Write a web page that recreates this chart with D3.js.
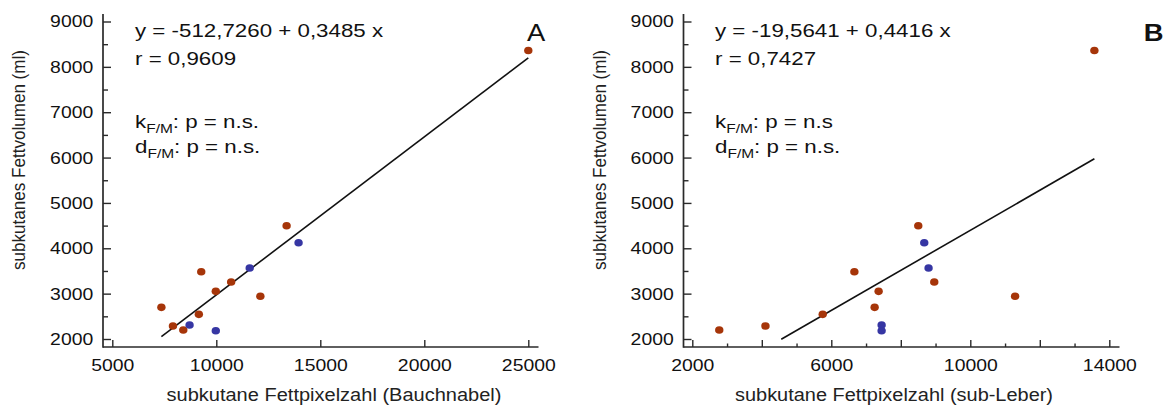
<!DOCTYPE html>
<html>
<head>
<meta charset="utf-8">
<script src="https://cdn.jsdelivr.net/npm/d3@7"></script>
<style>
  html, body { margin: 0; padding: 0; background: #fff; }
  svg { display: block; font-family: "Liberation Sans", Arial, sans-serif; }
</style>
</head>
<body>
<svg id="chart" width="1170" height="406"></svg>
<script>
// ---- data ----
const volume = [2698, 2286, 2198, 2544, 3482, 3051, 3256, 2941, 4496, 8360, 2308, 2183, 3564, 4121];
const pixBauchnabel = [7360, 7915, 8413, 9161, 9276, 9976, 10714, 12119, 13380, 25000, 8715, 9976, 11606, 13955];
const pixSubLeber = [7247, 4106, 2776, 5753, 6664, 7362, 8963, 11289, 8503, 13571, 7448, 7448, 8799, 8675];
const group = ["F","F","F","F","F","F","F","F","F","F","M","M","M","M"];

const fitA = [-512.7260, 0.3485];
const fitB = [-19.5641, 0.4416];
const fitRangeA = [7360, 25000];
const fitRangeB = [4560, 13571];

const yTicks = [2000, 3000, 4000, 5000, 6000, 7000, 8000, 9000];
const yMinorTicks = [2500, 3500, 4500, 5500, 6500, 7500, 8500];
const xTicksA = [5000, 10000, 15000, 20000, 25000];
const xTicksB = [2000, 4000, 6000, 8000, 10000, 12000, 14000];
const xMinorTicksB = [3000, 5000, 7000, 9000, 11000, 13000];
const xLabelTicksB = [2000, 6000, 10000, 14000];

const textA = ["y = -512,7260 + 0,3485 x", "r = 0,9609", "n.s."];
const textB = ["y = -19,5641 + 0,4416 x", "r = 0,7427", "n.s"];

const colors = { F: "#a63509", M: "#3636a3" };

const svg = d3.select("#chart");

function panel(cfg) {
  const g = svg.append("g");
  const x = d3.scaleLinear().domain(cfg.xDomain).range(cfg.xRange);
  const y = d3.scaleLinear().domain([2000, 9000]).range([339, 21.5]);
  const axX = cfg.axisX, axY = 347;

  // axis lines
  g.append("line").attr("x1", axX).attr("x2", axX).attr("y1", 14).attr("y2", axY + 0.8)
    .attr("stroke", "#2a2a2a").attr("stroke-width", 1.7);
  g.append("line").attr("x1", axX).attr("x2", cfg.axisEnd).attr("y1", axY).attr("y2", axY)
    .attr("stroke", "#2a2a2a").attr("stroke-width", 1.7);

  // y axis major ticks (inward) + labels
  const yAx = g.append("g").attr("transform", `translate(${axX},0)`)
    .call(d3.axisLeft(y).tickValues(yTicks).tickSize(-8).tickPadding(9).tickFormat(d3.format("d")));
  yAx.select(".domain").remove();
  yAx.selectAll("line").attr("stroke", "#2a2a2a").attr("stroke-width", 1.4);
  yAx.selectAll("text").attr("font-size", 17).attr("fill", "#111")
    .attr("font-family", "Liberation Sans, Arial, sans-serif")
    .attr("transform", "scale(1.14,1)").attr("x", -8.6);
  const yMin = g.append("g").attr("transform", `translate(${axX},0)`)
    .call(d3.axisLeft(y).tickValues(yMinorTicks).tickSize(-5).tickFormat(""));
  yMin.select(".domain").remove();
  yMin.selectAll("line").attr("stroke", "#2a2a2a").attr("stroke-width", 1.4);

  // x axis ticks (inward)
  const xAx = g.append("g").attr("transform", `translate(0,${axY})`)
    .call(d3.axisBottom(x).tickValues(cfg.xTicks).tickSize(-7).tickPadding(12)
      .tickFormat(d => cfg.xLabels.includes(d) ? d3.format("d")(d) : ""));
  xAx.select(".domain").remove();
  xAx.selectAll("line").attr("stroke", "#2a2a2a").attr("stroke-width", 1.4);
  xAx.selectAll("text").attr("font-size", 17).attr("fill", "#111")
    .attr("font-family", "Liberation Sans, Arial, sans-serif")
    .attr("transform", "scale(1.14,1)");
  if (cfg.xMinor) {
    const xMin = g.append("g").attr("transform", `translate(0,${axY})`)
      .call(d3.axisBottom(x).tickValues(cfg.xMinor).tickSize(-3.5).tickFormat(""));
    xMin.select(".domain").remove();
    xMin.selectAll("line").attr("stroke", "#2a2a2a").attr("stroke-width", 1.4);
  }

  // axis titles
  g.append("text").attr("x", cfg.xTitleX).attr("y", 401)
    .attr("text-anchor", "middle").attr("font-size", 17.5).attr("fill", "#222")
    .attr("textLength", cfg.xTitleLen).attr("lengthAdjust", "spacingAndGlyphs")
    .text(cfg.xTitle);
  g.append("text").attr("transform", `translate(${cfg.yTitleX},160) rotate(-90)`)
    .attr("text-anchor", "middle").attr("font-size", 17.5).attr("fill", "#222")
    .attr("textLength", 220).attr("lengthAdjust", "spacingAndGlyphs")
    .text("subkutanes Fettvolumen (ml)");

  // regression line
  const fx = cfg.fitRange;
  g.append("line")
    .attr("x1", x(fx[0])).attr("y1", y(cfg.fit[0] + cfg.fit[1] * fx[0]))
    .attr("x2", x(fx[1])).attr("y2", y(cfg.fit[0] + cfg.fit[1] * fx[1]))
    .attr("stroke", "#111").attr("stroke-width", 1.6);

  // points
  g.selectAll("ellipse.pt").data(volume.map((v, i) => ({ v, px: cfg.xs[i], grp: group[i] })))
    .enter().append("ellipse")
    .attr("cx", d => x(d.px)).attr("cy", d => y(d.v))
    .attr("rx", 4.2).attr("ry", 3.8)
    .attr("fill", d => colors[d.grp]);

  // annotations
  const ann = g.append("g").attr("transform", `translate(${cfg.annX},0) scale(1.24,1)`)
    .attr("font-size", 18).attr("fill", "#111");
  ann.append("text").attr("x", 0).attr("y", 37.5).text(cfg.text[0]);
  ann.append("text").attr("x", 0).attr("y", 65).text(cfg.text[1]);
  const k = ann.append("text").attr("x", 0).attr("y", 128.5);
  k.append("tspan").text("k");
  k.append("tspan").attr("font-size", 12.5).attr("dy", 4.5).text("F/M");
  k.append("tspan").attr("dy", -4.5).text(": p = " + cfg.text[2]);
  const dd = ann.append("text").attr("x", 0).attr("y", 153.5);
  dd.append("tspan").text("d");
  dd.append("tspan").attr("font-size", 12.5).attr("dy", 4.5).text("F/M");
  dd.append("tspan").attr("dy", -4.5).text(": p = n.s.");

  // panel letter
  g.append("text").attr("transform", `translate(${cfg.letterX},40.5) scale(1.14,1)`)
    .attr("text-anchor", "middle").attr("font-size", cfg.letterSize)
    .attr("font-weight", cfg.letterWeight).attr("fill", "#111").text(cfg.letter);
}

panel({
  xDomain: [5000, 25000], xRange: [112.3, 528.3], axisX: 103, axisEnd: 538.5,
  xTicks: xTicksA, xLabels: xTicksA, xMinor: null,
  xTitle: "subkutane Fettpixelzahl (Bauchnabel)", xTitleX: 334, xTitleLen: 335, yTitleX: 25,
  fit: fitA, fitRange: fitRangeA, xs: pixBauchnabel, text: textA, annX: 135,
  letter: "A", letterX: 536, letterSize: 24, letterWeight: "normal"
});
panel({
  xDomain: [2000, 14000], xRange: [692.3, 1109.3], axisX: 683.5, axisEnd: 1119.5,
  xTicks: xTicksB, xLabels: xLabelTicksB, xMinor: xMinorTicksB,
  xTitle: "subkutane Fettpixelzahl (sub-Leber)", xTitleX: 894, xTitleLen: 318, yTitleX: 606,
  fit: fitB, fitRange: fitRangeB, xs: pixSubLeber, text: textB, annX: 715,
  letter: "B", letterX: 1153.5, letterSize: 24, letterWeight: "bold"
});
</script>
</body>
</html>
